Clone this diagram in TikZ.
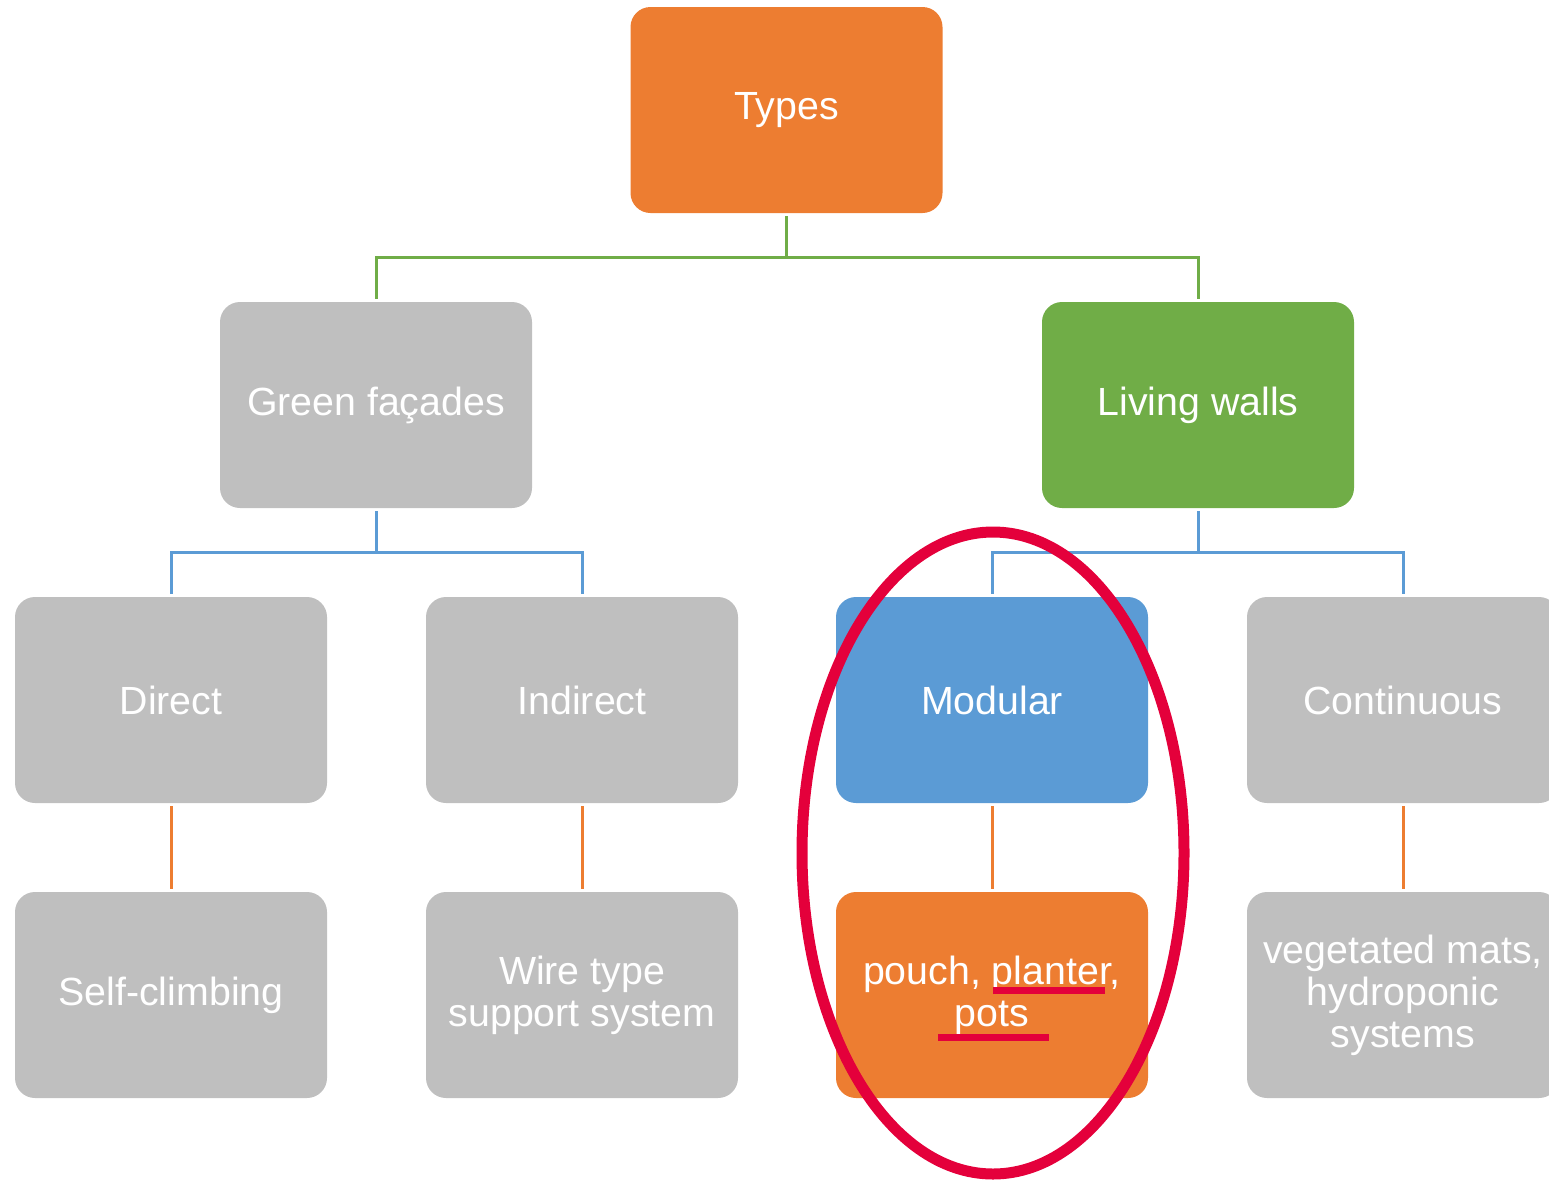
\documentclass[tikz,border=0pt]{standalone}
\usepackage{fontspec}
\setmainfont{Liberation Sans}
\definecolor{corange}{HTML}{ED7D31}
\definecolor{cgray}{HTML}{BFBFBF}
\definecolor{cgreen}{HTML}{70AD47}
\definecolor{cblue}{HTML}{5B9BD5}
\definecolor{cred}{HTML}{E4003B}
\begin{document}
\begin{tikzpicture}[x=1pt,y=-1pt,
  box/.style={rounded corners=20pt, minimum width=312pt, minimum height=206pt,
    inner sep=0pt, align=center, text=white,
    font=\fontsize{39.3}{42}\selectfont},
  conn/.style={line width=3pt, shorten <=3pt, shorten >=3pt},
]
\useasboundingbox (0,0) rectangle (1549,1181);
\node[box, fill=corange] (types) at (786.5,110) {Types};
\node[box, fill=cgray] (gf) at (376,405) {Green façades};
\node[box, fill=cgreen] (lw) at (1198,405) {Living walls};
\node[box, fill=cgray] (direct) at (171,700) {Direct};
\node[box, fill=cgray] (indirect) at (582,700) {Indirect};
\node[box, fill=cblue] (modular) at (992,700) {Modular};
\node[box, fill=cgray] (cont) at (1403,700) {Continuous};
\node[box, fill=cgray] (self) at (171,995) {Self-climbing};
\node[box, fill=cgray] (wire) at (582,995) {Wire type\\support system};
\node[box, fill=corange] (pouch) at (992,995) {pouch, planter,\\pots};
\node[box, fill=cgray] (veg) at (1403,995) {vegetated mats,\\hydroponic\\systems};

\draw[conn, cgreen] (types.south) -- ++(0,44) -| (gf.north);
\draw[conn, cgreen] (types.south) -- ++(0,44) -| (lw.north);
\draw[conn, cblue] (gf.south) -- ++(0,44) -| (direct.north);
\draw[conn, cblue] (gf.south) -- ++(0,44) -| (indirect.north);
\draw[conn, cblue] (lw.south) -- ++(0,44) -| (modular.north);
\draw[conn, cblue] (lw.south) -- ++(0,44) -| (cont.north);
\draw[conn, corange] (direct.south) -- (self.north);
\draw[conn, corange] (indirect.south) -- (wire.north);
\draw[conn, corange] (modular.south) -- (pouch.north);
\draw[conn, corange] (cont.south) -- (veg.north);

\draw[cred, line width=7pt] (993,990) -- (1105,990);
\draw[cred, line width=7pt] (938,1037) -- (1049,1037);
\draw[cred, line width=11pt] (993,853) ellipse [x radius=191, y radius=321];
\end{tikzpicture}
\end{document}
